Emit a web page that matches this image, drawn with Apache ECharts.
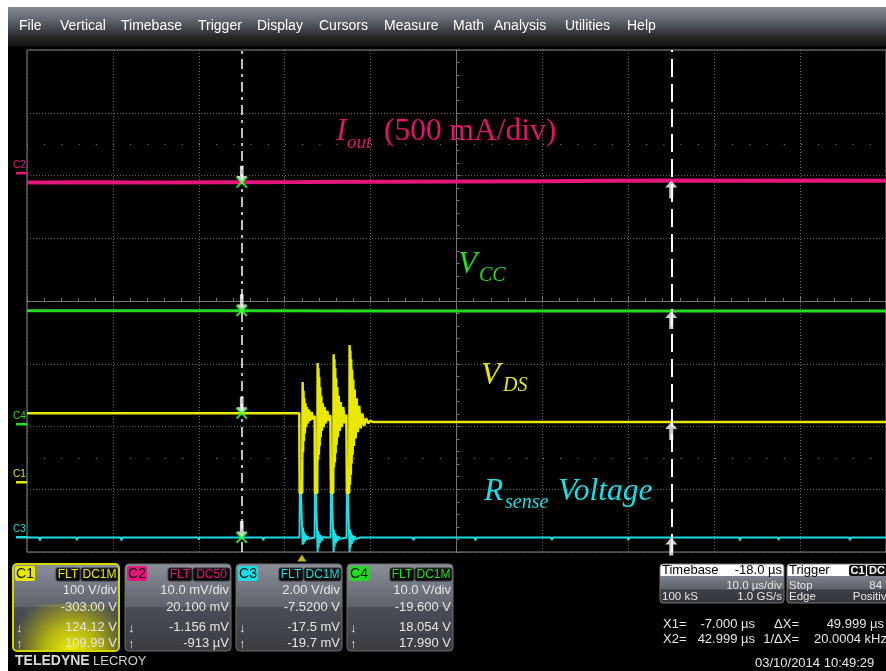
<!DOCTYPE html>
<html>
<head>
<meta charset="utf-8">
<script src="https://cdn.jsdelivr.net/npm/echarts@6/dist/echarts.min.js"></script>
<style>
html,body{margin:0;padding:0;background:#fff;}
#c{width:886px;height:671px;}
</style>
</head>
<body>
<div id="c"></div>
<script>
// ---- Acquisition settings ----
const timePerDiv = 10;        // µs/div
const timeCentre = 18;        // µs at screen centre (delay -18 µs)
const cursorTimes = [-7.0, 42.999];   // X1, X2 (µs)
const triggerTime = 0;

// channel scale (per div) and offset
const c1Scale = 100,  c1Offset = -303.0;  // V
const c2Scale = 10.0, c2Offset = 20.1;    // mV
const c3Scale = 2.0,  c3Offset = -7.52;   // V
const c4Scale = 10.0, c4Offset = -19.6;   // V

// values at the X1 / X2 cursors
const c1AtCursors = [124.12, 109.99];   // V
const c2AtCursors = [-1.156, -0.913];   // mV
const c3AtCursors = [-0.0175, -0.0197]; // V
const c4AtCursors = [18.054, 17.990];   // V

// ---- Traces: [time µs, value] ----
// C2 : output current sense (mV)
const c2Iout = [
  [-32,-1.20],[-25,-1.18],[-18,-1.22],[-7,-1.156],[0,-1.15],[8,-1.10],
  [18,-1.05],[28,-1.00],[36,-0.95],[42.999,-0.913],[52,-0.92],[60,-0.90],[68,-0.92]
];
// C4 : supply (V)
const c4Vcc = [
  [-32,18.06],[-7,18.054],[10,18.02],[30,18.00],[42.999,17.990],[68,17.99]
];
// C1 : drain-source voltage (V)
const c1Vds = [
  [-32,124.2],[-20,124.1],[-7,124.12],[-0.30,124.0],
  [-0.26,-3],[0.03,-3],[0.09,174],[0.14,62],[0.19,160],[0.23,80],[0.29,148],[0.35,92],
  [0.42,140],[0.50,102],[0.59,134],[0.70,108],[0.83,130],[0.97,112],[1.14,126],[1.31,114],[1.49,120],
  [1.52,-3],[1.79,-3],[1.84,204],[1.88,50],[1.93,196],[1.98,58],[2.02,182],[2.07,72],[2.13,166],
  [2.19,86],[2.26,152],[2.34,96],[2.43,140],[2.54,102],[2.66,134],[2.80,108],[2.96,128],[3.14,112],[3.32,121],
  [3.38,-3],[3.65,-3],[3.70,218],[3.74,38],[3.79,210],[3.84,46],[3.88,196],[3.93,60],[3.99,180],
  [4.05,74],[4.12,166],[4.20,86],[4.29,152],[4.40,96],[4.52,142],[4.66,102],[4.82,134],[5.00,108],[5.18,122],
  [5.24,-3],[5.51,-3],[5.56,233],[5.60,10],[5.65,224],[5.70,26],[5.74,210],[5.79,44],[5.85,194],
  [5.91,58],[5.98,178],[6.06,72],[6.15,162],[6.26,84],[6.38,148],[6.52,94],[6.68,136],[6.86,100],
  [7.05,124],[7.25,104],[7.48,116],[7.72,108],[7.95,112],[8.30,110.2],
  [20,110.1],[42.999,109.99],[55,110.0],[68,110.0]
];
// C3 : sense resistor voltage (V)
const c3Rsense = [
  [-32,-0.0175],[-30.6,-0.0175],[-30.5,-0.11],[-30.4,-0.0175],
  [-26.3,-0.0175],[-26.2,-0.10],[-26.1,-0.0175],
  [-21.1,-0.0175],[-21.0,-0.11],[-20.9,-0.0175],
  [-12.1,-0.0175],[-12.0,-0.09],[-11.9,-0.0175],
  [-7,-0.0175],
  [-4.6,-0.0175],[-4.5,-0.10],[-4.4,-0.0175],
  [-0.28,-0.0175],[-0.24,1.50],[-0.12,1.58],[0.0,1.52],[0.06,1.55],[0.09,-0.25],[0.14,0.30],[0.20,-0.22],
  [0.27,0.16],[0.35,-0.16],[0.44,0.08],[0.55,-0.10],[0.68,0.02],[0.82,-0.06],[1.00,-0.02],
  [1.48,-0.02],[1.52,1.48],[1.62,1.56],[1.74,1.50],[1.80,1.54],[1.84,-0.48],[1.89,0.20],[1.95,-0.34],
  [2.02,0.10],[2.10,-0.20],[2.19,0.06],[2.30,-0.12],[2.43,0.0],[2.58,-0.06],[2.80,-0.02],
  [3.34,-0.02],[3.38,1.50],[3.48,1.58],[3.60,1.52],[3.66,1.55],[3.70,-0.48],[3.75,0.22],[3.81,-0.32],
  [3.88,0.12],[3.96,-0.20],[4.05,0.05],[4.16,-0.12],[4.29,0.01],[4.44,-0.06],[4.66,-0.02],
  [5.20,-0.02],[5.24,1.52],[5.34,1.60],[5.46,1.54],[5.52,1.56],[5.56,-0.48],[5.61,0.24],[5.67,-0.34],
  [5.74,0.14],[5.82,-0.22],[5.91,0.06],[6.02,-0.13],[6.15,0.02],[6.30,-0.07],[6.50,-0.03],[6.80,-0.0197],
  [12.9,-0.0197],[13.0,-0.10],[13.1,-0.0197],
  [20.1,-0.0197],[20.2,-0.11],[20.3,-0.0197],
  [29.0,-0.0197],[29.1,-0.09],[29.2,-0.0197],
  [37.9,-0.0197],[38.0,-0.10],[38.1,-0.0197],
  [42.999,-0.0197],
  [50.9,-0.0197],[51.0,-0.11],[51.1,-0.0197],
  [55.4,-0.0197],[55.5,-0.09],[55.6,-0.0197],
  [63.7,-0.0197],[63.8,-0.10],[63.9,-0.0197],
  [68,-0.0197]
];

// ---- Readout panel text ----
const menuLabels = ['File','Vertical','Timebase','Trigger','Display','Cursors','Measure','Math','Analysis','Utilities','Help'];
const chanNames = ['C1','C2','C3','C4'];
const chanCoupling = ['DC1M','DC50','DC1M','DC1M'];
const chanVdivText = ['100 V/div','10.0 mV/div','2.00 V/div','10.0 V/div'];
const chanOffsetText = ['-303.00 V','20.100 mV','-7.5200 V','-19.600 V'];
const chanX1Text = ['124.12 V','-1.156 mV','-17.5 mV','18.054 V'];
const chanX2Text = ['109.99 V','-913 µV','-19.7 mV','17.990 V'];
const timebaseRows = ['Timebase', '-18.0 µs', '10.0 µs/div', '100 kS', '1.0 GS/s'];
const triggerRows = ['Trigger', 'C1', 'DC', 'Stop', '84 V', 'Edge', 'Positive'];
const cursorRows = [
  ['X1=', '-7.000 µs', 'ΔX=', '49.999 µs'],
  ['X2=', '42.999 µs', '1/ΔX=', '20.0004 kHz']
];
const dateText = '03/10/2014 10:49:29';

// ---- Colours ----
const colC1 = '#e8e800', colC2 = '#e4167a', colC3 = '#1cdde4', colC4 = '#22dd22';
const chanColors = [colC1, colC2, colC3, colC4];

// ---- helpers ----
const toX = t => (t - timeCentre) / timePerDiv;
const chanY = (v, scale, off) => (v + off) / scale;
const mapTrace = (arr, scale, off) => arr.map(p => [toX(p[0]), chanY(p[1], scale, off)]);

const x1 = toX(cursorTimes[0]), x2 = toX(cursorTimes[1]);
const atX1 = [
  [x1, chanY(c2AtCursors[0], c2Scale, c2Offset)],
  [x1, chanY(c4AtCursors[0], c4Scale, c4Offset)],
  [x1, chanY(c1AtCursors[0], c1Scale, c1Offset)],
  [x1, chanY(c3AtCursors[0], c3Scale, c3Offset)]
];
const atX2 = [
  [x2, chanY(c2AtCursors[1], c2Scale, c2Offset)],
  [x2, chanY(c4AtCursors[1], c4Scale, c4Offset)],
  [x2, chanY(c1AtCursors[1], c1Scale, c1Offset)],
  [x2, chanY(c3AtCursors[1], c3Scale, c3Offset)]
];

const arrowDown = 'path://M4,0 L8,0 L8,11 L12,11 L6,18 L0,11 L4,11 Z';
const arrowUp = 'path://M6,0 L12,7 L8,7 L8,18 L4,18 L4,7 L0,7 Z';
const crossPath = 'path://M0,1.5 L1.5,0 L6,4.5 L10.5,0 L12,1.5 L7.5,6 L12,10.5 L10.5,12 L6,7.5 L1.5,12 L0,10.5 L4.5,6 Z';

// ---- graphic chrome ----
const G = [];
const SANS = '"Liberation Sans", Arial, sans-serif';
const SERIF = '"Liberation Serif", "Times New Roman", serif';
function rect(x, y, w, h, fill, extra) {
  G.push({type:'rect', z:10, shape:{x:x, y:y, width:w, height:h, r:(extra && extra.r) || 0},
    style:{fill:fill, stroke:(extra && extra.stroke) || null, lineWidth:(extra && extra.lw) || 0}});
}
function txt(x, y, text, fill, font, align, z) {
  G.push({type:'text', z: z || 12, x:x, y:y,
    style:{text:text, fill:fill, font:font, align:align || 'left', verticalAlign:'middle',
           textAlign:align || 'left', textVerticalAlign:'middle'}});
}
function lin(stops) {
  return new echarts.graphic.LinearGradient(0, 0, 0, 1, stops.map(c => ({offset:c[0], color:c[1]})));
}

// page margins and menu bar
rect(0, 0, 886, 7, '#ffffff');
rect(0, 0, 8, 671, '#ffffff');
rect(8, 7, 878, 39, lin([[0,'#878b94'],[0.35,'#5f636b'],[0.7,'#303237'],[0.72,'#2b2b2d'],[1,'#151515']]));
const menuX = [19, 60, 121, 198, 257, 319, 384, 453, 494, 565, 627];
menuLabels.forEach((m, i) => txt(menuX[i], 26, m, '#ffffff', '14px ' + SANS));

// channel tags at the left edge
const tagY = [173, 424, 482, 537];
const tagNames = ['C2','C4','C1','C3'];
const tagCols = [colC2, colC4, colC1, colC3];
tagNames.forEach((n, i) => {
  txt(13, tagY[i] - 8, n, tagCols[i], '10px ' + SANS);
  rect(16, tagY[i] - 1, 11, 2.5, tagCols[i]);
});

// channel descriptor boxes
const boxX = [13, 125, 236, 347];
chanNames.forEach((n, i) => {
  const x0 = boxX[i], y0 = 564, w = 106, h = 87, R = x0 + w;
  rect(x0, y0, w, h, lin([[0,'#8a8e98'],[0.49,'#5e626b'],[0.5,'#4a4d55'],[1,'#3a3c42']]), {r:4});
  if (i === 0) {
    G.push({type:'rect', z:10, shape:{x:x0+1, y:604, width:w-2, height:46, r:3},
      style:{fill:new echarts.graphic.RadialGradient(0.55, 1.05, 1.35, [
        {offset:0, color:'rgba(245,245,0,1)'}, {offset:0.45, color:'rgba(215,215,0,0.75)'},
        {offset:1, color:'rgba(190,190,0,0)'}])}});
  }
  G.push({type:'rect', z:11, shape:{x:x0, y:y0, width:w, height:h, r:4},
    style:{fill:null, stroke: i === 0 ? '#d6d600' : '#6e6e6e', lineWidth: i === 0 ? 2 : 1}});
  // name badge
  rect(x0 + 2, y0 + 2, 20, 15, chanColors[i], {r:2});
  txt(x0 + 12, y0 + 10, n, '#101010', '14px ' + SANS, 'center');
  // FLT / coupling badges
  rect(R - 63, y0 + 4, 24, 13, '#0b0b0b', {r:2, stroke:'#3a3a3a', lw:1});
  txt(R - 51, y0 + 11, 'FLT', chanColors[i], '12px ' + SANS, 'center');
  rect(R - 38, y0 + 4, 37, 13, '#0b0b0b', {r:2, stroke:'#3a3a3a', lw:1});
  txt(R - 19.5, y0 + 11, chanCoupling[i], chanColors[i], '12px ' + SANS, 'center');
  // readouts
  const tc = '#e6e6e6', f = '13px ' + SANS;
  txt(R - 2, 590, chanVdivText[i], tc, f, 'right');
  txt(R - 2, 607, chanOffsetText[i], tc, f, 'right');
  txt(R - 2, 627, chanX1Text[i], tc, f, 'right');
  txt(R - 2, 643, chanX2Text[i], tc, f, 'right');
  txt(x0 + 3, 628, '↓', tc, f);
  txt(x0 + 3, 644, '↑', tc, f);
});

// brand
txt(15, 661, 'TELEDYNE', '#d9d9d9', 'bold 14px ' + SANS);
txt(93, 661, 'LECROY', '#d0d0d0', '13px ' + SANS);

// timebase and trigger boxes
const boxFill = () => lin([[0,'#ffffff'],[0.31,'#ffffff'],[0.32,'#7d818b'],[0.64,'#5d6169'],[0.66,'#3c3f46'],[1,'#34363b']]);
const pf = '11.5px ' + SANS;
(function(){
  const x0 = 660, y0 = 564, w = 124, h = 39, R = x0 + w;
  rect(x0, y0, w, h, boxFill(), {r:3, stroke:'#777', lw:1});
  txt(x0 + 2, y0 + 6.5, timebaseRows[0], '#000', '13px ' + SANS);
  txt(R - 2, y0 + 6.5, timebaseRows[1], '#000', '13px ' + SANS, 'right');
  txt(R - 2, y0 + 22, timebaseRows[2], '#e6e6e6', pf, 'right');
  txt(x0 + 2, y0 + 33, timebaseRows[3], '#e6e6e6', pf);
  txt(R - 2, y0 + 33, timebaseRows[4], '#e6e6e6', pf, 'right');
})();
(function(){
  const x0 = 787, y0 = 564, w = 112, h = 39;
  rect(x0, y0, w, h, boxFill(), {r:3, stroke:'#777', lw:1});
  txt(x0 + 2, y0 + 6.5, triggerRows[0], '#000', '13px ' + SANS);
  rect(849, y0 + 1, 17, 11, '#111', {r:2});
  txt(857.5, y0 + 6.5, triggerRows[1], '#fff', 'bold 11px ' + SANS, 'center');
  rect(867, y0 + 1, 24, 11, '#111', {r:2});
  txt(869, y0 + 6.5, triggerRows[2], '#fff', 'bold 11px ' + SANS);
  txt(x0 + 2, y0 + 22, triggerRows[3], '#e6e6e6', pf);
  txt(893, y0 + 22, triggerRows[4], '#e6e6e6', pf, 'right');
  txt(x0 + 2, y0 + 33, triggerRows[5], '#e6e6e6', pf);
  txt(893, y0 + 33, triggerRows[6], '#e6e6e6', pf, 'right');
})();
// cursor readouts
const curRowY = [624.5, 639];
cursorRows.forEach((r, i) => {
  txt(663, curRowY[i], r[0], '#e6e6e6', '13px ' + SANS);
  txt(755, curRowY[i], r[1], '#e6e6e6', '13px ' + SANS, 'right');
  txt(799, curRowY[i], r[2], '#e6e6e6', '13px ' + SANS, 'right');
  txt(i === 0 ? 884 : 887, curRowY[i], r[3], '#e6e6e6', '13px ' + SANS, 'right');
});
txt(755, 663, dateText, '#e6e6e6', '13px ' + SANS);

// trace annotations
const bigF = '31.5px ' + SERIF;
txt(336, 132, 'I', '#e0156a', 'italic ' + bigF, 'left', 15);
txt(347, 143, 'out', '#e0156a', 'italic 19px ' + SERIF, 'left', 15);
txt(384, 132, '(500 mA/div)', '#e0156a', bigF, 'left', 15);
txt(458, 265, 'V', colC4, 'italic ' + bigF, 'left', 15);
txt(479, 276, 'CC', colC4, 'italic 20px ' + SERIF, 'left', 15);
txt(481, 376, 'V', colC1, 'italic ' + bigF, 'left', 15);
txt(503, 386, 'DS', colC1, 'italic 20px ' + SERIF, 'left', 15);
txt(484, 492, 'R', colC3, 'italic ' + bigF, 'left', 15);
txt(505, 503, 'sense', colC3, 'italic 20px ' + SERIF, 'left', 15);
txt(558, 492, 'Voltage', colC3, 'italic ' + bigF, 'left', 15);

// ---- chart ----
const gridLine = {color:'#6a6a6a', type:[1, 2], width:1};
const centreLine = {color:'#757575', width:1};
const option = {
  backgroundColor: '#000000',
  animation: false,
  grid: {left:27, top:50, width:860, height:502, show:true, backgroundColor:'#000', borderColor:'#858585', borderWidth:1},
  xAxis: {type:'value', min:-5, max:5, interval:1,
    axisLine:{show:true, onZero:true, lineStyle:centreLine},
    axisTick:{show:true, inside:true, length:4, lineStyle:centreLine},
    minorTick:{show:true, splitNumber:5, length:3, lineStyle:centreLine},
    axisLabel:{show:false}, splitLine:{show:true, lineStyle:gridLine}},
  yAxis: {type:'value', min:-4, max:4, interval:1,
    axisLine:{show:true, onZero:true, lineStyle:centreLine},
    axisTick:{show:true, inside:true, length:4, lineStyle:centreLine},
    minorTick:{show:true, splitNumber:5, length:3, lineStyle:centreLine},
    axisLabel:{show:false}, splitLine:{show:true, lineStyle:gridLine}},
  graphic: G,
  series: [
    {name:'C2', type:'line', data:mapTrace(c2Iout, c2Scale, c2Offset), symbol:'none',
     lineStyle:{color:colC2, width:4}, z:3,
     markLine:{silent:true, symbol:'none', label:{show:false},
       lineStyle:{color:'#8a8a8a', type:[1, 16.2], width:1},
       data:[{yAxis:2.5}, {yAxis:-2.5}]}},
    {name:'C4', type:'line', data:mapTrace(c4Vcc, c4Scale, c4Offset), symbol:'none',
     lineStyle:{color:colC4, width:3}, z:3},
    {name:'C3', type:'line', data:mapTrace(c3Rsense, c3Scale, c3Offset), symbol:'none',
     lineStyle:{color:colC3, width:2}, z:3},
    {name:'C1', type:'line', data:mapTrace(c1Vds, c1Scale, c1Offset), symbol:'none',
     lineStyle:{color:colC1, width:2.5}, z:4},
    {name:'X1 arrows', type:'scatter', data:atX1, symbol:arrowDown, symbolSize:[11,17], symbolOffset:[0,-8],
     itemStyle:{color:'#ffffff'}, z:6, clip:false, silent:true,
     markLine:{silent:true, symbol:'none', label:{show:false}, z:5,
       data:[
         {xAxis:x1, lineStyle:{color:'#ffffff', width:1.5, type:[10,5,3,5]}},
         {xAxis:x2, lineStyle:{color:'#ffffff', width:2, type:[18,7]}}
       ]}},
    {name:'X2 arrows', type:'scatter', data:atX2, symbol:arrowUp, symbolSize:[12,18], symbolOffset:[0,9],
     itemStyle:{color:'#ffffff'}, z:6, clip:false, silent:true},
    {name:'X1 marks', type:'scatter', data:atX1, symbol:crossPath, symbolSize:12,
     itemStyle:{color:'#3cff3c'}, z:7, clip:false, silent:true},
    {name:'Trigger', type:'scatter', data:[[toX(triggerTime), -4]], symbol:'triangle', symbolSize:[9,7],
     symbolOffset:[0,6], itemStyle:{color:colC1}, z:6, clip:false, silent:true}
  ]
};
const chart = echarts.init(document.getElementById('c'), null, {renderer:'canvas'});
chart.setOption(option);
</script>
</body>
</html>
